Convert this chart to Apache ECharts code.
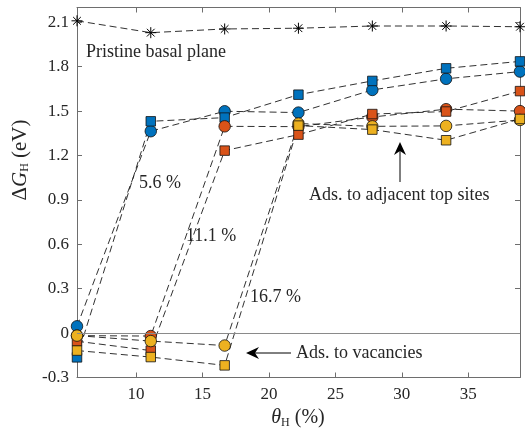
<!DOCTYPE html>
<html><head><meta charset="utf-8">
<script src="https://cdn.jsdelivr.net/npm/echarts@6/dist/echarts.min.js"></script>
<style>html,body{margin:0;padding:0;background:#fff}#c{width:525px;height:432px}</style>
</head><body><div id="c"></div>
<script>
// Coverage θH (%) and ΔGH (eV) values
const coverage     = [5.56, 11.11, 16.67, 22.22, 27.78, 33.33, 38.89];
const pristine     = [2.11, 2.03, 2.055, 2.06, 2.075, 2.075, 2.07];
const blueCircle   = [0.046, 1.364, 1.499, 1.49, 1.643, 1.718, 1.767];
const blueSquare   = [-0.164, 1.431, 1.456, 1.611, 1.704, 1.789, 1.836];
const orangeCircle = [-0.017, -0.02, 1.397, 1.395, 1.46, 1.513, 1.50];
const orangeSquare = [-0.055, -0.118, 1.233, 1.341, 1.48, 1.497, 1.635];
const yellowCircle = [-0.017, -0.054, -0.084, 1.416, 1.397, 1.40, 1.44];
const yellowSquare = [-0.118, -0.162, -0.218, 1.402, 1.375, 1.303, 1.447];
const xTicks = [10, 15, 20, 25, 30, 35];
const yTicks = [-0.3, 0, 0.3, 0.6, 0.9, 1.2, 1.5, 1.8, 2.1];

const F = 'Liberation Serif';
const TXT = '#262626';
const AX = '#6e6e6e';
const pair = arr => arr.map((v, i) => [coverage[i], v]);
const dash = {color: '#1a1a1a', width: 0.9, type: [7, 4]};
const ASTER = 'path://M10,0L10,20M0,10L20,10M3,3L17,17M3,17L17,3';

function mk(name, data, color, symbol, size, extra) {
  return Object.assign({
    name, type: 'line', data: pair(data), symbol, symbolSize: size,
    clip: false, lineStyle: dash,
    itemStyle: {color, borderColor: '#111', borderWidth: 0.8},
    emphasis: {disabled: true}, z: 3
  }, extra || {});
}

const baseX = {
  type: 'value', min: 5.56, max: 38.89,
  splitLine: {show: false},
  axisLine: {show: true, onZero: false, lineStyle: {color: AX, width: 1}},
  axisTick: {show: true, inside: true, length: 5, lineStyle: {color: AX}, customValues: xTicks}
};
const baseY = {
  type: 'value', min: -0.3, max: 2.2,
  splitLine: {show: false},
  axisLine: {show: true, onZero: false, lineStyle: {color: AX, width: 1}},
  axisTick: {show: true, inside: true, length: 5, lineStyle: {color: AX}, customValues: yTicks}
};
const ann = (x, y, text) => ({type: 'text', x, y, silent: true,
  style: {text, fill: TXT, fontFamily: F, fontSize: 18, textAlign: 'left', textVerticalAlign: 'middle'}});

const chart = echarts.init(document.getElementById('c'), null, {renderer: 'canvas'});
chart.setOption({
  animation: false,
  backgroundColor: '#fff',
  grid: {left: 77, right: 5, top: 7.5, bottom: 54.5, containLabel: false},
  xAxis: [
    Object.assign({}, baseX, {position: 'bottom',
      axisLabel: {customValues: xTicks, color: TXT, fontFamily: F, fontSize: 17, margin: 9}}),
    Object.assign({}, baseX, {position: 'top', axisLabel: {show: false}})
  ],
  yAxis: [
    Object.assign({}, baseY, {position: 'left',
      axisLabel: {customValues: yTicks, color: TXT, fontFamily: F, fontSize: 17, margin: 8,
        formatter: v => String(+(+v).toFixed(1))}}),
    Object.assign({}, baseY, {position: 'right', axisLabel: {show: false}})
  ],
  series: [
    mk('Pristine basal plane', pristine, 'rgba(0,0,0,0)', ASTER, 11,
      {itemStyle: {color: 'rgba(0,0,0,0)', borderColor: '#000', borderWidth: 1},
       markLine: {silent: true, symbol: 'none', label: {show: false},
         lineStyle: {color: '#8a8a8a', type: 'solid', width: 1.2}, data: [{yAxis: 0}]}}),
    mk('5.6 % circle', blueCircle, '#0072BD', 'circle', 11.5),
    mk('5.6 % square', blueSquare, '#0072BD', 'rect', 9.5),
    mk('11.1 % circle', orangeCircle, '#D95319', 'circle', 11.5),
    mk('11.1 % square', orangeSquare, '#D95319', 'rect', 9.5),
    mk('16.7 % circle', yellowCircle, '#EDB120', 'circle', 11.5),
    mk('16.7 % square', yellowSquare, '#EDB120', 'rect', 9.5)
  ],
  graphic: [
    ann(86, 52, 'Pristine basal plane'),
    ann(139, 183, '5.6 %'),
    ann(186, 236, '11.1 %'),
    ann(250, 297, '16.7 %'),
    ann(309, 195, 'Ads. to adjacent top sites'),
    ann(296, 353, 'Ads. to vacancies'),
    {type: 'line', silent: true, shape: {x1: 400, y1: 182, x2: 400, y2: 150}, style: {stroke: '#000', lineWidth: 1}},
    {type: 'polygon', silent: true, shape: {points: [[400, 142], [394, 155], [400, 151], [406, 155]]}, style: {fill: '#000'}},
    {type: 'line', silent: true, shape: {x1: 291, y1: 353, x2: 254, y2: 353}, style: {stroke: '#000', lineWidth: 1}},
    {type: 'polygon', silent: true, shape: {points: [[246, 353], [259, 347], [255, 353], [259, 359]]}, style: {fill: '#000'}},
    {type: 'text', x: 298, y: 418, silent: true, style: {
      text: '{i|θ}{s|H}{n| (%)}', fill: TXT, textAlign: 'center', textVerticalAlign: 'middle',
      rich: {i: {fontFamily: F, fontSize: 20, fontStyle: 'italic', fill: TXT},
             s: {fontFamily: F, fontSize: 12, fill: TXT, padding: [10, 0, 0, 0]},
             n: {fontFamily: F, fontSize: 20, fill: TXT}}}},
    {type: 'text', x: 20, y: 160, rotation: Math.PI / 2, silent: true, style: {
      text: '{n|Δ}{i|G}{s|H}{n| (eV)}', fill: TXT, textAlign: 'center', textVerticalAlign: 'middle',
      rich: {i: {fontFamily: F, fontSize: 21, fontStyle: 'italic', fill: TXT},
             s: {fontFamily: F, fontSize: 12, fill: TXT, padding: [10, 0, 0, 0]},
             n: {fontFamily: F, fontSize: 21, fill: TXT}}}}
  ]
});
</script></body></html>
